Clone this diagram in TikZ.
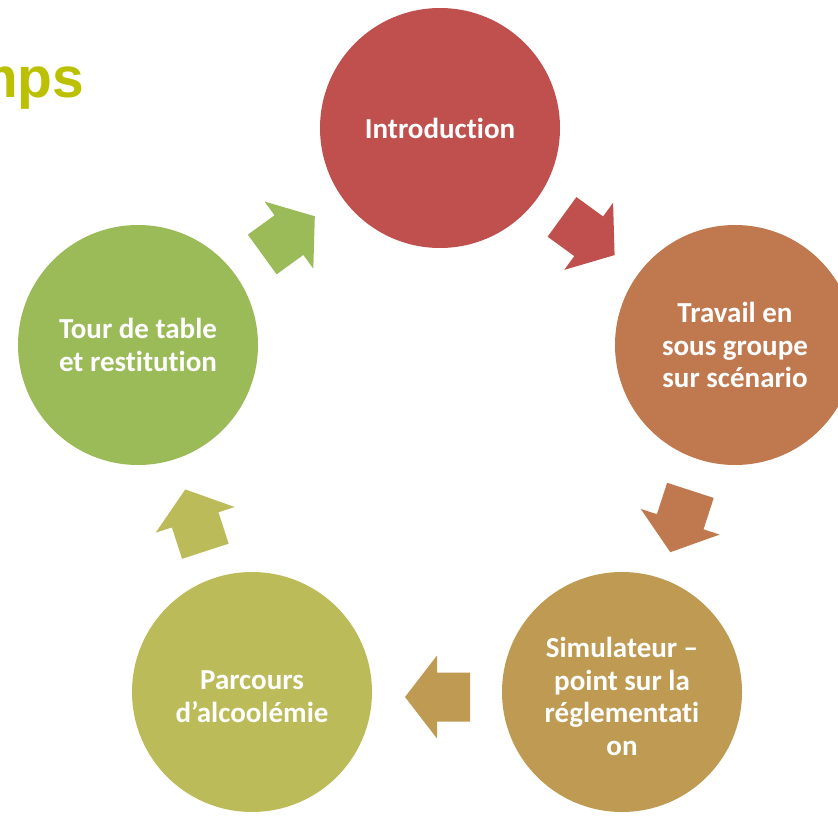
\documentclass[tikz,border=0pt]{standalone}
\usepackage{fontspec}
\newfontfamily\carlito{Carlito}[Ligatures={NoCommon}]
\newfontfamily\arialbold{Liberation Sans}
\definecolor{cIntro}{HTML}{C0504D}
\definecolor{cTravail}{HTML}{C0784F}
\definecolor{cSimu}{HTML}{BF9A52}
\definecolor{cParc}{HTML}{BCBB59}
\definecolor{cTour}{HTML}{9BBB59}
\definecolor{cTitle}{HTML}{BBC000}
\begin{document}
\begin{tikzpicture}[x=1pt,y=1pt,
  circ/.style={circle, minimum size=240pt, inner sep=0pt},
  txt/.style={inner sep=0pt, align=center, text=white,
    font=\carlito\bfseries\fontsize{29}{32.5}\selectfont},
  ttl/.style={inner sep=0pt, text=cTitle, font=\arialbold\bfseries\fontsize{57}{60}\selectfont}]
\useasboundingbox (0,0) rectangle (838,815);
\clip (0,0) rectangle (838,815);
\node[ttl, anchor=base east] (title) at (84.5,717) {mps};
\node[circ, fill=cIntro] (intro) at (440,687) {};
\node[circ, fill=cTravail] (travail) at (735,470) {};
\node[circ, fill=cSimu] (simu) at (622,123) {};
\node[circ, fill=cParc] (parc) at (252,123) {};
\node[circ, fill=cTour] (tour) at (138,470) {};
\node[txt] (introtext) at (intro.center) {Introduction};
\node[txt] (travailtext) at (travail.center) {Travail en\\sous groupe\\sur scénario};
\node[txt] (simutext) at ([yshift=-4.5pt]simu.center) {Simulateur –\\point sur la\\réglementati\\on};
\node[txt] (parctext) at ([yshift=-4.5pt]parc.center) {Parcours\\d’alcoolémie};
\node[txt] (tourtext) at (tour.center) {Tour de table\\et restitution};
\foreach \ang/\col in {54/cIntro, -18/cTravail, -90/cSimu, -162/cParc, 126/cTour} {
  \fill[\col, shift={({438+255*cos(\ang)},{373+255*sin(\ang)})}, rotate={\ang-90}]
    (-32,-24.5) -- (1,-24.5) -- (1,-41.5) -- (33,0) -- (1,41.5) -- (1,24.5) -- (-32,24.5) -- cycle;
}
\end{tikzpicture}
\end{document}
